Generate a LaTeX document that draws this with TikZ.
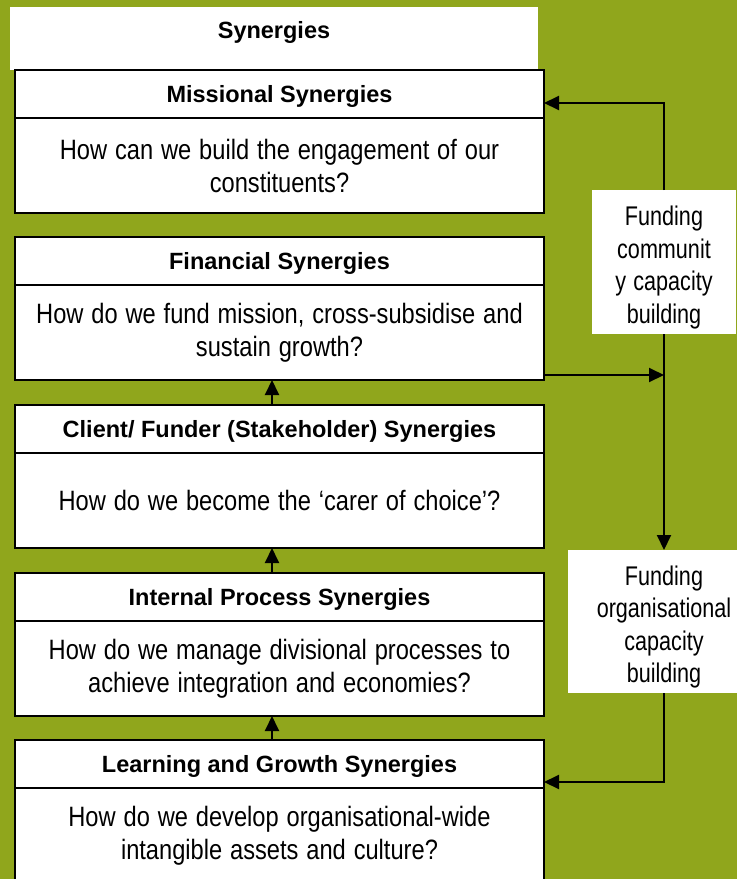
\documentclass[tikz,border=0pt]{standalone}
\usepackage{fontspec}
\usepackage{graphicx}
\setmainfont{Liberation Sans}
\newcommand\squeeze[2][0.845]{\scalebox{#1}[1]{#2}}
\usetikzlibrary{positioning,arrows.meta}
\definecolor{olivebg}{RGB}{144,166,28}

\begin{document}
\begin{tikzpicture}
[x=1pt, y=-1pt,
headnode/.style={rectangle, draw=black, fill=white, line width=1.5pt, outer sep=0pt, inner sep=0pt, minimum width=529pt, minimum height=48pt, font=\bfseries\fontsize{23.5}{27}\selectfont, text height=16.5pt, text depth=0pt},
bodynode/.style={rectangle, draw=black, fill=white, line width=1.5pt, outer sep=0pt, inner sep=0pt, minimum width=529pt, minimum height=95pt, text width=520pt, align=center, font=\fontsize{28}{33}\selectfont},
fundnode/.style={rectangle, fill=white, outer sep=0pt, inner sep=0pt, text width=144pt, minimum height=144pt, align=center, font=\fontsize{27}{32.5}\selectfont},
flow/.style={line width=2pt, -{Triangle[length=15pt,width=14pt]}},
]
\path[use as bounding box, fill=olivebg] (0,0) rectangle (737,879);
\clip (0,0) rectangle (737,879);

% title strip
\node[rectangle, fill=white, minimum width=528pt, minimum height=63pt, inner sep=0pt, font=\bfseries\fontsize{23.5}{27}\selectfont, text height=16.5pt, text depth=16pt] (syn) at (274,38.5) {Synergies};

% the five synergy boxes
\node[headnode] (mis) at (279.5,94) {Missional Synergies};
\node[bodynode] (misQ) [below=0pt of mis] {\squeeze{How can we build the engagement of our}\\\squeeze{constituents?}};
\node[headnode] (fin) [below=24pt of misQ] {Financial Synergies};
\node[bodynode] (finQ) [below=0pt of fin] {\squeeze{How do we fund mission, cross-subsidise and}\\\squeeze{sustain growth?}};
\node[headnode] (cli) [below=25pt of finQ] {Client/ Funder (Stakeholder) Synergies};
\node[bodynode] (cliQ) [below=0pt of cli] {\squeeze{How do we become the ‘carer of choice’?}\\[0pt]{}};
\node[headnode] (int) [below=25pt of cliQ] {Internal Process Synergies};
\node[bodynode] (intQ) [below=0pt of int] {\squeeze{How do we manage divisional processes to}\\\squeeze{achieve integration and economies?}};
\node[headnode] (lrn) [below=24pt of intQ] {Learning and Growth Synergies};
\node[bodynode] (lrnQ) [below=0pt of lrn] {\squeeze{How do we develop organisational-wide}\\\squeeze{intangible assets and culture?}};

% funding boxes
\node[fundnode] (comm) at (664,262) {\rule{0pt}{31pt}\squeeze[0.8]{Funding}\\\squeeze[0.8]{communit}\\\squeeze[0.8]{y capacity}\\\squeeze[0.8]{building}};
\node[fundnode, text width=146pt, minimum height=143pt] (org) at (664,621.5) {\rule{0pt}{31pt}\squeeze[0.8]{Funding}\\\squeeze[0.8]{organisational}\\\squeeze[0.8]{capacity}\\\squeeze[0.8]{building}};
\fill[white] (568,550) rectangle (org.south west);

% upward flow
\draw[flow] ([xshift=-7.5pt]cli.north) -- ([xshift=-7.5pt]finQ.south);
\draw[flow] ([xshift=-7.5pt]int.north) -- ([xshift=-7.5pt]cliQ.south);
\draw[flow] ([xshift=-7.5pt]lrn.north) -- ([xshift=-7.5pt]intQ.south);

% funding loop
\draw[flow] (comm.north) |- ([yshift=-9pt]mis.east);
\draw[flow] ([yshift=5pt]finQ.south east) -- ([yshift=5pt]finQ.south east -| comm.south);
\draw[flow] (comm.south) -- (org.north);
\draw[flow] (org.south) |- ([yshift=6pt]lrn.south east);
\end{tikzpicture}
\end{document}
